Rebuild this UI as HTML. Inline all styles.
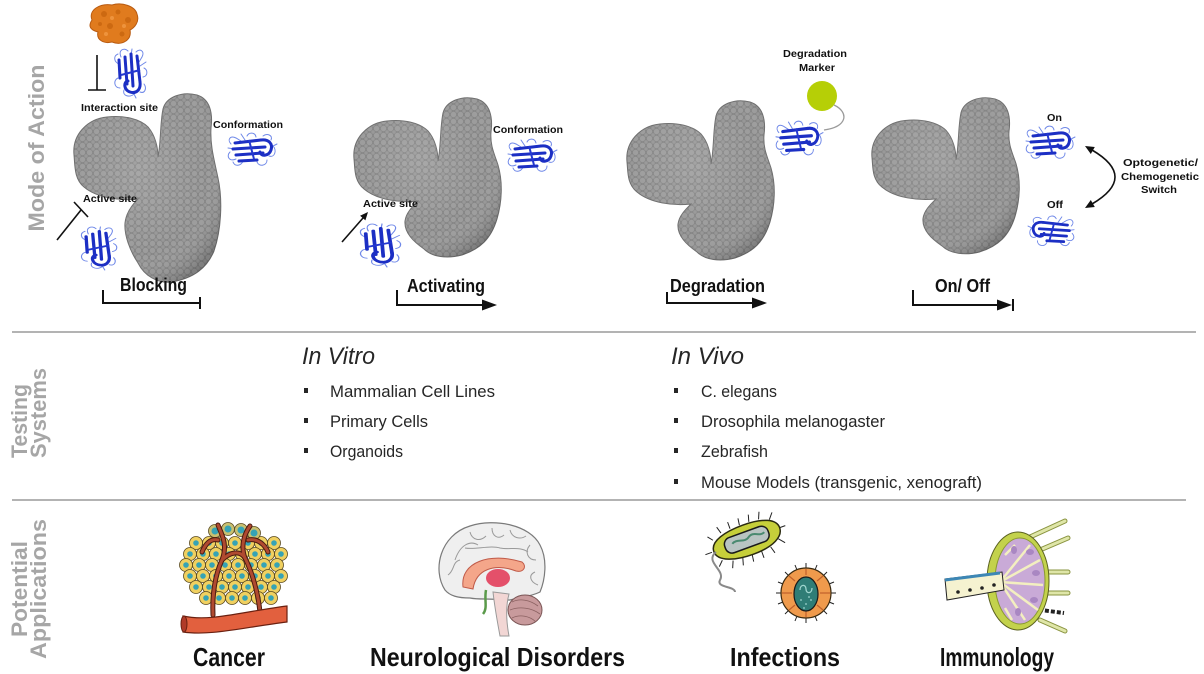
<!DOCTYPE html>
<html>
<head>
<meta charset="utf-8">
<style>
html,body{margin:0;padding:0;background:#fff;}
svg{display:block;}
text{font-family:"Liberation Sans",Arial,sans-serif;}
</style>
</head>
<body>
<svg width="1204" height="674" viewBox="0 0 1204 674" xmlns="http://www.w3.org/2000/svg">
<defs>
  <pattern id="bump" width="7" height="7" patternUnits="userSpaceOnUse">
    <rect width="7" height="7" fill="#858585"/>
    <circle cx="3.5" cy="3.5" r="2.7" fill="#9c9c9c"/>
    <circle cx="0" cy="0" r="1.7" fill="#979797"/>
    <circle cx="7" cy="0" r="1.7" fill="#979797"/>
    <circle cx="0" cy="7" r="1.7" fill="#979797"/>
    <circle cx="7" cy="7" r="1.7" fill="#979797"/>
  </pattern>
  <radialGradient id="shade" cx="0.45" cy="0.4" r="0.65">
    <stop offset="0" stop-color="#ffffff" stop-opacity="0.12"/>
    <stop offset="0.7" stop-color="#ffffff" stop-opacity="0"/>
    <stop offset="1" stop-color="#000000" stop-opacity="0.18"/>
  </radialGradient>
  <path id="prot" d="M 2 62 C 0 42 15 26 35 24 C 52 22 68 26 76 34 C 83 42 86 54 86 64 C 89 50 88 30 91 16 C 94 4 110 -2 125 2 C 138 6 141 20 139 35 C 138 48 142 56 146 68 C 151 85 150 105 145 122 C 139 142 128 152 110 158 C 95 162 80 160 72 152 C 62 145 52 136 53 124 C 54 116 60 110 66 104 C 48 106 25 103 12 92 C 2 84 3 72 2 62 Z"/>
  <path id="protB" d="M 2 62 C 0 42 15 26 35 24 C 52 22 68 26 76 34 C 83 42 86 54 86 64 C 89 50 88 30 91 16 C 94 4 110 -2 125 2 C 138 6 141 20 139 35 C 138 52 142 66 146 85 C 151 108 149 138 142 158 C 135 175 122 185 100 189 C 85 191 72 182 66 170 C 58 158 52 142 53 130 C 54 120 60 112 66 106 C 48 108 25 105 12 94 C 2 86 3 72 2 62 Z"/>
  <g id="nb">
    <g fill="none" stroke="#6f88e8" stroke-width="1" stroke-linecap="round">
      <path d="M4 12 C0 8 3 3 9 6 L14 9"/>
      <path d="M3 20 C-1 24 2 30 9 27"/>
      <path d="M6 30 C8 35 14 34 16 29"/>
      <path d="M20 4 C22 0 28 0 29 5"/>
      <path d="M36 4 C40 1 46 3 44 8"/>
      <path d="M42 24 C48 26 50 18 46 14 L50 12"/>
      <path d="M30 30 C32 35 40 34 40 28"/>
      <path d="M14 2 L18 8"/>
      <path d="M1 16 L8 17"/>
    </g>
    <g fill="none" stroke="#1c2fc4" stroke-width="3" stroke-linecap="round">
      <path d="M8 11 L34 8"/>
      <path d="M6 17 L38 15"/>
      <path d="M9 23 L36 21"/>
      <path d="M12 29 L30 28"/>
      <path d="M34 8 C42 7 46 12 44 18 C42 24 34 25 33 20"/>
    </g>
    <path d="M22 8 L27 27" stroke="#2438d0" stroke-width="2" fill="none"/>
  </g>
</defs>

<!-- Dividers -->
<line x1="12" y1="332" x2="1196" y2="332" stroke="#9a9a9a" stroke-width="1.5"/>
<line x1="12" y1="500" x2="1186" y2="500" stroke="#9a9a9a" stroke-width="1.5"/>

<!-- Left section labels -->
<g fill="#a6a6a6" font-weight="bold" font-size="22">
  <text transform="translate(44,148) rotate(-90)" text-anchor="middle" textLength="167" lengthAdjust="spacingAndGlyphs">Mode of Action</text>
  <text transform="translate(27,458) rotate(-90)" textLength="74" lengthAdjust="spacingAndGlyphs">Testing</text>
  <text transform="translate(46,458) rotate(-90)" textLength="90" lengthAdjust="spacingAndGlyphs">Systems</text>
  <text transform="translate(27,589) rotate(-90)" text-anchor="middle" textLength="96" lengthAdjust="spacingAndGlyphs">Potential</text>
  <text transform="translate(46,589) rotate(-90)" text-anchor="middle" textLength="140" lengthAdjust="spacingAndGlyphs">Applications</text>
</g>

<!-- Proteins -->
<g stroke="#6e6e6e" stroke-width="1">
  <use href="#protB" transform="translate(72,93)" fill="url(#bump)"/>
  <use href="#protB" transform="translate(72,93)" fill="url(#shade)" stroke="none"/>
  <use href="#prot" transform="translate(352,97)" fill="url(#bump)"/>
  <use href="#prot" transform="translate(352,97)" fill="url(#shade)" stroke="none"/>
  <use href="#prot" transform="translate(625,100)" fill="url(#bump)"/>
  <use href="#prot" transform="translate(625,100)" fill="url(#shade)" stroke="none"/>
  <use href="#prot" transform="translate(870,97) scale(1,0.98)" fill="url(#bump)"/>
  <use href="#prot" transform="translate(870,97) scale(1,0.98)" fill="url(#shade)" stroke="none"/>
</g>

<!-- Orange protein -->
<path d="M92 20 C88 10 100 3 112 5 C122 2 135 6 137 14 C140 22 134 28 130 30 C132 40 122 46 112 42 C104 44 96 40 98 32 C90 30 88 26 92 20 Z" fill="#e07b1e" stroke="#b85a10" stroke-width="1"/>
<g fill="#c8650f" opacity="0.8">
  <circle cx="104" cy="14" r="3"/><circle cx="118" cy="12" r="2.5"/><circle cx="128" cy="20" r="3"/>
  <circle cx="110" cy="26" r="3"/><circle cx="122" cy="34" r="2.5"/><circle cx="100" cy="24" r="2"/>
</g>
<g fill="#f29a45" opacity="0.8">
  <circle cx="112" cy="18" r="2"/><circle cx="124" cy="26" r="2"/><circle cx="106" cy="34" r="2"/>
</g>

<!-- Nanobodies -->
<use href="#nb" transform="translate(148,48) rotate(90)"/>
<use href="#nb" transform="translate(227,132)"/>
<use href="#nb" transform="translate(118,226) rotate(90) scale(0.88,1.1)"/>
<use href="#nb" transform="translate(507,138)"/>
<use href="#nb" transform="translate(402,223) rotate(90) scale(0.88,1.25)"/>
<use href="#nb" transform="translate(775,120) scale(0.96,1.05)"/>
<use href="#nb" transform="translate(1025,125)"/>
<use href="#nb" transform="translate(1075,215) scale(-0.94,0.92)"/>

<!-- Small labels -->
<g font-weight="bold" font-size="10.5" fill="#111">
  <text x="81" y="111" textLength="77" lengthAdjust="spacingAndGlyphs">Interaction site</text>
  <text x="213" y="128" textLength="70" lengthAdjust="spacingAndGlyphs">Conformation</text>
  <text x="83" y="202" textLength="54" lengthAdjust="spacingAndGlyphs">Active site</text>
  <text x="493" y="133" textLength="70" lengthAdjust="spacingAndGlyphs">Conformation</text>
  <text x="363" y="207" textLength="55" lengthAdjust="spacingAndGlyphs">Active site</text>
  <text x="783" y="57" textLength="64" lengthAdjust="spacingAndGlyphs">Degradation</text>
  <text x="799" y="71" textLength="36" lengthAdjust="spacingAndGlyphs">Marker</text>
  <text x="1047" y="121" textLength="15" lengthAdjust="spacingAndGlyphs">On</text>
  <text x="1047" y="208" textLength="16" lengthAdjust="spacingAndGlyphs">Off</text>
  <text x="1123" y="166" textLength="75" lengthAdjust="spacingAndGlyphs">Optogenetic/</text>
  <text x="1121" y="180" textLength="78" lengthAdjust="spacingAndGlyphs">Chemogenetic</text>
  <text x="1141" y="193" textLength="36" lengthAdjust="spacingAndGlyphs">Switch</text>
</g>

<!-- Degradation marker -->
<circle cx="822" cy="96" r="15" fill="#b6cf06"/>
<path d="M834 105 C849 112 848 127 824 130" fill="none" stroke="#9a9a9a" stroke-width="1.3"/>

<!-- Inhibit / activate symbols -->
<g stroke="#111" stroke-width="1.6" fill="none">
  <line x1="97" y1="55" x2="97" y2="90"/>
  <line x1="88" y1="90" x2="106" y2="90"/>
  <line x1="57" y1="240" x2="81" y2="210"/>
  <line x1="74" y1="202" x2="88" y2="217"/>
  <line x1="342" y1="242" x2="363" y2="218"/>
</g>
<polygon points="368,212 365.4,220.4 360.1,215.8" fill="#111"/>

<!-- Switch arrow -->
<path d="M1092 150 Q1138 177 1092 204" fill="none" stroke="#111" stroke-width="1.6"/>
<polygon points="1085,146 1094.8,147 1090.8,154" fill="#111"/>
<polygon points="1085,208 1094.8,207 1090.8,200" fill="#111"/>

<!-- Mode brackets -->
<g stroke="#111" stroke-width="2" fill="none">
  <path d="M103 290 V303 H200"/>
  <line x1="200" y1="297" x2="200" y2="309"/>
  <path d="M397 290 V305 H484"/>
  <path d="M667 292 V303 H754"/>
  <path d="M913 290 V305 H1000"/>
  <line x1="1013" y1="299" x2="1013" y2="311"/>
</g>
<g fill="#111">
  <polygon points="482,299.5 497,305 482,310.5"/>
  <polygon points="752,297.5 767,303 752,308.5"/>
  <polygon points="997,299.5 1012,305 997,310.5"/>
</g>
<g font-weight="bold" font-size="18" fill="#111">
  <text x="120" y="291" textLength="67" lengthAdjust="spacingAndGlyphs">Blocking</text>
  <text x="407" y="292" textLength="78" lengthAdjust="spacingAndGlyphs">Activating</text>
  <text x="670" y="292" textLength="95" lengthAdjust="spacingAndGlyphs">Degradation</text>
  <text x="935" y="292" textLength="55" lengthAdjust="spacingAndGlyphs">On/ Off</text>
</g>

<!-- Testing systems -->
<g fill="#262626">
  <text x="302" y="364" font-size="24" font-style="italic" textLength="73" lengthAdjust="spacingAndGlyphs">In Vitro</text>
  <text x="671" y="364" font-size="24" font-style="italic" textLength="73" lengthAdjust="spacingAndGlyphs">In Vivo</text>
  <g font-size="17">
    <text x="330" y="397" textLength="165" lengthAdjust="spacingAndGlyphs">Mammalian  Cell Lines</text>
    <text x="330" y="427" textLength="98" lengthAdjust="spacingAndGlyphs">Primary Cells</text>
    <text x="330" y="457" textLength="73" lengthAdjust="spacingAndGlyphs">Organoids</text>
    <text x="701" y="397" textLength="76" lengthAdjust="spacingAndGlyphs">C. elegans</text>
    <text x="701" y="427" textLength="184" lengthAdjust="spacingAndGlyphs">Drosophila  melanogaster</text>
    <text x="701" y="457" textLength="67" lengthAdjust="spacingAndGlyphs">Zebrafish</text>
    <text x="701" y="488" textLength="281" lengthAdjust="spacingAndGlyphs">Mouse  Models  (transgenic,  xenograft)</text>
  </g>
  <rect x="304" y="388" width="4" height="5"/>
  <rect x="304" y="418" width="4" height="5"/>
  <rect x="304" y="448" width="4" height="5"/>
  <rect x="674" y="388" width="4" height="5"/>
  <rect x="674" y="418" width="4" height="5"/>
  <rect x="674" y="448" width="4" height="5"/>
  <rect x="674" y="479" width="4" height="5"/>
</g>

<!-- Cancer icon -->
<g>
  <g stroke="#5a4a20" stroke-width="0.8">
    <g fill="#f0d060">
      <circle cx="196" cy="543" r="6.5"/><circle cx="209" cy="543" r="6.5"/><circle cx="222" cy="543" r="6.5"/><circle cx="235" cy="543" r="6.5"/><circle cx="248" cy="543" r="6.5"/><circle cx="261" cy="543" r="6.5"/><circle cx="274" cy="543" r="6.5"/>
      <circle cx="190" cy="554" r="6.5"/><circle cx="203" cy="554" r="6.5"/><circle cx="216" cy="554" r="6.5"/><circle cx="229" cy="554" r="6.5"/><circle cx="242" cy="554" r="6.5"/><circle cx="255" cy="554" r="6.5"/><circle cx="268" cy="554" r="6.5"/><circle cx="281" cy="554" r="6.5"/>
      <circle cx="186" cy="565" r="6.5"/><circle cx="199" cy="565" r="6.5"/><circle cx="212" cy="565" r="6.5"/><circle cx="225" cy="565" r="6.5"/><circle cx="238" cy="565" r="6.5"/><circle cx="251" cy="565" r="6.5"/><circle cx="264" cy="565" r="6.5"/><circle cx="277" cy="565" r="6.5"/>
      <circle cx="190" cy="576" r="6.5"/><circle cx="203" cy="576" r="6.5"/><circle cx="216" cy="576" r="6.5"/><circle cx="229" cy="576" r="6.5"/><circle cx="242" cy="576" r="6.5"/><circle cx="255" cy="576" r="6.5"/><circle cx="268" cy="576" r="6.5"/><circle cx="281" cy="576" r="6.5"/>
      <circle cx="196" cy="587" r="6.5"/><circle cx="209" cy="587" r="6.5"/><circle cx="222" cy="587" r="6.5"/><circle cx="235" cy="587" r="6.5"/><circle cx="248" cy="587" r="6.5"/><circle cx="261" cy="587" r="6.5"/><circle cx="274" cy="587" r="6.5"/>
      <circle cx="206" cy="598" r="6.5"/><circle cx="219" cy="598" r="6.5"/><circle cx="232" cy="598" r="6.5"/><circle cx="245" cy="598" r="6.5"/><circle cx="258" cy="598" r="6.5"/><circle cx="271" cy="598" r="6.5"/>
    </g>
    <g fill="#c9c070">
      <circle cx="215" cy="531" r="6.5"/><circle cx="228" cy="529" r="6.5"/><circle cx="241" cy="530" r="6.5"/><circle cx="254" cy="533" r="6.5"/>
    </g>
  </g>
  <g fill="#36a3b5">
    <circle cx="196" cy="543" r="2.8"/><circle cx="209" cy="543" r="2.8"/><circle cx="222" cy="543" r="2.8"/><circle cx="235" cy="543" r="2.8"/><circle cx="248" cy="543" r="2.8"/><circle cx="261" cy="543" r="2.8"/><circle cx="274" cy="543" r="2.8"/>
    <circle cx="190" cy="554" r="2.8"/><circle cx="203" cy="554" r="2.8"/><circle cx="216" cy="554" r="2.8"/><circle cx="229" cy="554" r="2.8"/><circle cx="242" cy="554" r="2.8"/><circle cx="255" cy="554" r="2.8"/><circle cx="268" cy="554" r="2.8"/><circle cx="281" cy="554" r="2.8"/>
    <circle cx="186" cy="565" r="2.8"/><circle cx="199" cy="565" r="2.8"/><circle cx="212" cy="565" r="2.8"/><circle cx="225" cy="565" r="2.8"/><circle cx="238" cy="565" r="2.8"/><circle cx="251" cy="565" r="2.8"/><circle cx="264" cy="565" r="2.8"/><circle cx="277" cy="565" r="2.8"/>
    <circle cx="190" cy="576" r="2.8"/><circle cx="203" cy="576" r="2.8"/><circle cx="216" cy="576" r="2.8"/><circle cx="229" cy="576" r="2.8"/><circle cx="242" cy="576" r="2.8"/><circle cx="255" cy="576" r="2.8"/><circle cx="268" cy="576" r="2.8"/><circle cx="281" cy="576" r="2.8"/>
    <circle cx="196" cy="587" r="2.8"/><circle cx="209" cy="587" r="2.8"/><circle cx="222" cy="587" r="2.8"/><circle cx="235" cy="587" r="2.8"/><circle cx="248" cy="587" r="2.8"/><circle cx="261" cy="587" r="2.8"/><circle cx="274" cy="587" r="2.8"/>
    <circle cx="206" cy="598" r="2.8"/><circle cx="219" cy="598" r="2.8"/><circle cx="232" cy="598" r="2.8"/><circle cx="245" cy="598" r="2.8"/><circle cx="258" cy="598" r="2.8"/><circle cx="271" cy="598" r="2.8"/>
    <circle cx="215" cy="531" r="3.5"/><circle cx="228" cy="529" r="3.5"/><circle cx="241" cy="530" r="3.5"/><circle cx="254" cy="533" r="3.5"/>
  </g>
  <g fill="none" stroke="#4a1a10" stroke-width="5" stroke-linecap="round">
    <path d="M213 615 C212 595 215 575 222 560 C228 545 222 535 218 525"/>
    <path d="M260 612 C258 592 252 572 245 558 C240 545 245 533 250 526"/>
    <path d="M222 560 C230 552 240 550 245 558"/>
    <path d="M218 540 C210 538 205 545 202 552"/>
    <path d="M248 540 C258 538 265 545 268 552"/>
  </g>
  <g fill="none" stroke="#b04a30" stroke-width="3" stroke-linecap="round">
    <path d="M213 615 C212 595 215 575 222 560 C228 545 222 535 218 525"/>
    <path d="M260 612 C258 592 252 572 245 558 C240 545 245 533 250 526"/>
    <path d="M222 560 C230 552 240 550 245 558"/>
    <path d="M218 540 C210 538 205 545 202 552"/>
    <path d="M248 540 C258 538 265 545 268 552"/>
  </g>
  <path d="M183 616 C210 622 240 612 287 606 L287 622 C240 628 210 636 183 632 Z" fill="#e2603e" stroke="#6a2010" stroke-width="1.2"/>
  <ellipse cx="184" cy="624" rx="3" ry="8" fill="#b03a28" stroke="#6a2010" stroke-width="1"/>
</g>

<!-- Brain icon -->
<g>
  <path d="M445 590 C432 570 440 535 470 526 C495 518 530 525 540 545 C548 560 545 580 540 592 C530 597 520 597 510 600 L500 600 C490 598 480 600 470 598 C458 598 450 596 445 590 Z" fill="#efefef" stroke="#7a7a7a" stroke-width="1.2"/>
  <g fill="none" stroke="#9a9a9a" stroke-width="1">
    <path d="M455 560 C460 545 470 540 478 545"/>
    <path d="M470 532 C472 540 480 542 486 536"/>
    <path d="M492 528 C492 536 498 540 504 535"/>
    <path d="M510 530 C512 538 520 540 526 536"/>
    <path d="M530 545 C524 552 528 560 536 560"/>
    <path d="M448 575 C455 570 452 562 460 560"/>
    <path d="M535 572 C528 575 530 582 538 585"/>
    <path d="M465 548 C475 550 490 545 500 548 C510 550 520 546 528 552"/>
  </g>
  <path d="M463 587 C460 562 490 552 522 562 C527 566 524 573 516 571 C495 563 476 569 473 589 Z" fill="#f4a68a" stroke="#c05a48" stroke-width="1"/>
  <ellipse cx="498" cy="578" rx="12" ry="9" fill="#e4506a"/>
  <path d="M486 590 C484 600 488 608 483 614" stroke="#5a9a4a" stroke-width="2.5" fill="none"/>
  <path d="M493 592 C495 610 498 625 500 636 L509 636 C506 620 506 605 509 594 Z" fill="#f2d6d4" stroke="#999" stroke-width="1"/>
  <ellipse cx="525" cy="610" rx="17" ry="15" fill="#c89a9c" stroke="#7a5555" stroke-width="1"/>
  <g fill="none" stroke="#8a6060" stroke-width="0.8">
    <path d="M512 602 C520 598 530 600 538 606"/>
    <path d="M510 610 C520 606 532 608 540 614"/>
    <path d="M512 618 C520 614 530 616 536 622"/>
  </g>
</g>

<!-- Infections icon -->
<g>
  <g transform="rotate(-20 743 541)">
    <g stroke="#222" stroke-width="1">
      <line x1="715" y1="530" x2="711" y2="525"/><line x1="725" y1="526" x2="723" y2="519"/><line x1="735" y1="525" x2="735" y2="518"/><line x1="745" y1="525" x2="746" y2="518"/><line x1="755" y1="525" x2="757" y2="518"/><line x1="765" y1="526" x2="768" y2="519"/><line x1="775" y1="530" x2="780" y2="524"/>
      <line x1="781" y1="541" x2="788" y2="541"/><line x1="777" y1="551" x2="782" y2="557"/><line x1="767" y1="556" x2="769" y2="563"/><line x1="757" y1="557" x2="757" y2="564"/><line x1="747" y1="557" x2="746" y2="564"/><line x1="737" y1="557" x2="735" y2="564"/><line x1="727" y1="556" x2="724" y2="563"/><line x1="717" y1="552" x2="712" y2="557"/><line x1="710" y1="541" x2="703" y2="541"/>
    </g>
    <path d="M712 541 C712 530 730 526 748 526 C770 526 782 532 782 541 C782 550 770 557 748 557 C730 557 712 552 712 541 Z" fill="#c6cf3a" stroke="#2a2a10" stroke-width="1.5"/>
    <rect x="724" y="533" width="46" height="16" rx="7" fill="#b9c4c2" stroke="#1a1a1a" stroke-width="1.5"/>
    <path d="M732 540 C738 536 744 544 750 539 C756 535 760 543 766 540" stroke="#4a8a70" stroke-width="2" fill="none"/>
  </g>
  <path d="M716 552 C704 562 726 570 720 580 C716 588 735 586 735 592" fill="none" stroke="#8a8a8a" stroke-width="2"/>
  <g stroke="#222" stroke-width="1">
    <line x1="806" y1="563" x2="806" y2="568"/><line x1="806" y1="618" x2="806" y2="623"/><line x1="776" y1="593" x2="781" y2="593"/><line x1="831" y1="593" x2="836" y2="593"/>
    <line x1="785" y1="572" x2="789" y2="576"/><line x1="827" y1="572" x2="823" y2="576"/><line x1="785" y1="614" x2="789" y2="610"/><line x1="827" y1="614" x2="823" y2="610"/>
    <line x1="795" y1="565" x2="797" y2="570"/><line x1="817" y1="565" x2="815" y2="570"/><line x1="795" y1="621" x2="797" y2="616"/><line x1="817" y1="621" x2="815" y2="616"/>
    <line x1="778" y1="582" x2="783" y2="584"/><line x1="834" y1="582" x2="829" y2="584"/><line x1="778" y1="604" x2="783" y2="602"/><line x1="834" y1="604" x2="829" y2="602"/>
  </g>
  <circle cx="806" cy="593" r="25" fill="#ef9a4c" stroke="#3a2a10" stroke-width="1.2"/>
  <g stroke="#c0602a" stroke-width="1.2">
    <line x1="806" y1="569" x2="806" y2="575"/><line x1="806" y1="611" x2="806" y2="617"/><line x1="782" y1="593" x2="792" y2="593"/><line x1="820" y1="593" x2="830" y2="593"/>
    <line x1="789" y1="576" x2="795" y2="581"/><line x1="823" y1="576" x2="817" y2="581"/><line x1="789" y1="610" x2="795" y2="605"/><line x1="823" y1="610" x2="817" y2="605"/>
  </g>
  <ellipse cx="806" cy="594" rx="12" ry="17" fill="#2f7d76" stroke="#1a1a1a" stroke-width="1.2"/>
  <path d="M800 590 C800 584 806 584 806 589 C806 594 812 594 812 588" stroke="#9fd6cf" stroke-width="1.3" fill="none"/>
  <g fill="#9fd6cf"><circle cx="801" cy="600" r="0.9"/><circle cx="806" cy="604" r="0.9"/><circle cx="811" cy="600" r="0.9"/><circle cx="804" cy="608" r="0.9"/><circle cx="809" cy="597" r="0.9"/></g>
</g>

<!-- Immunology icon -->
<g>
  <g stroke="#8a9440" stroke-width="5" stroke-linecap="round">
    <line x1="1030" y1="537" x2="1065" y2="521"/>
    <line x1="1040" y1="550" x2="1068" y2="538"/>
    <line x1="1046" y1="572" x2="1068" y2="572"/>
    <line x1="1046" y1="593" x2="1068" y2="593"/>
    <line x1="1040" y1="620" x2="1065" y2="631"/>
  </g>
  <g stroke="#dfe6a8" stroke-width="3" stroke-linecap="round">
    <line x1="1030" y1="537" x2="1065" y2="521"/>
    <line x1="1040" y1="550" x2="1068" y2="538"/>
    <line x1="1046" y1="572" x2="1068" y2="572"/>
    <line x1="1046" y1="593" x2="1068" y2="593"/>
    <line x1="1040" y1="620" x2="1065" y2="631"/>
  </g>
  <line x1="1033" y1="609" x2="1064" y2="613" stroke="#222" stroke-width="4" stroke-dasharray="4 2"/>
  <ellipse cx="1018" cy="581" rx="31" ry="49" fill="#c3d24c" stroke="#5a6020" stroke-width="1"/>
  <ellipse cx="1020" cy="581" rx="25" ry="43" fill="#c9aad7" stroke="#8a9a30" stroke-width="1"/>
  <g stroke="#f3efc0" stroke-width="2.5" fill="none">
    <path d="M1000 582 L1040 560"/>
    <path d="M1000 582 L1030 545"/>
    <path d="M1000 582 L1043 585"/>
    <path d="M1000 582 L1038 610"/>
    <path d="M1000 582 L1025 620"/>
    <path d="M1005 555 L1015 545"/>
    <path d="M1005 608 L1012 620"/>
  </g>
  <g fill="#a987c2">
    <ellipse cx="1030" cy="552" rx="4" ry="3"/><ellipse cx="1036" cy="573" rx="4" ry="3"/><ellipse cx="1034" cy="600" rx="4" ry="3"/><ellipse cx="1018" cy="612" rx="3" ry="4"/><ellipse cx="1014" cy="550" rx="3" ry="4"/>
  </g>
  <path d="M945 579 L1002 572 L1004 590 L947 600 Z" fill="#f5f2d0" stroke="#222" stroke-width="1"/>
  <line x1="945" y1="580" x2="1000" y2="573" stroke="#3d87b5" stroke-width="3"/>
  <g fill="#222"><circle cx="958" cy="592" r="1.8"/><circle cx="970" cy="590" r="1.8"/><circle cx="982" cy="588" r="1.8"/><circle cx="994" cy="585" r="1.8"/></g>
</g>

<!-- Application labels -->
<g font-weight="bold" font-size="26" fill="#111">
  <text x="193" y="666" textLength="72" lengthAdjust="spacingAndGlyphs">Cancer</text>
  <text x="370" y="666" textLength="255" lengthAdjust="spacingAndGlyphs">Neurological Disorders</text>
  <text x="730" y="666" textLength="110" lengthAdjust="spacingAndGlyphs">Infections</text>
  <text x="940" y="666" textLength="114" lengthAdjust="spacingAndGlyphs">Immunology</text>
</g>
</svg>
</body>
</html>
